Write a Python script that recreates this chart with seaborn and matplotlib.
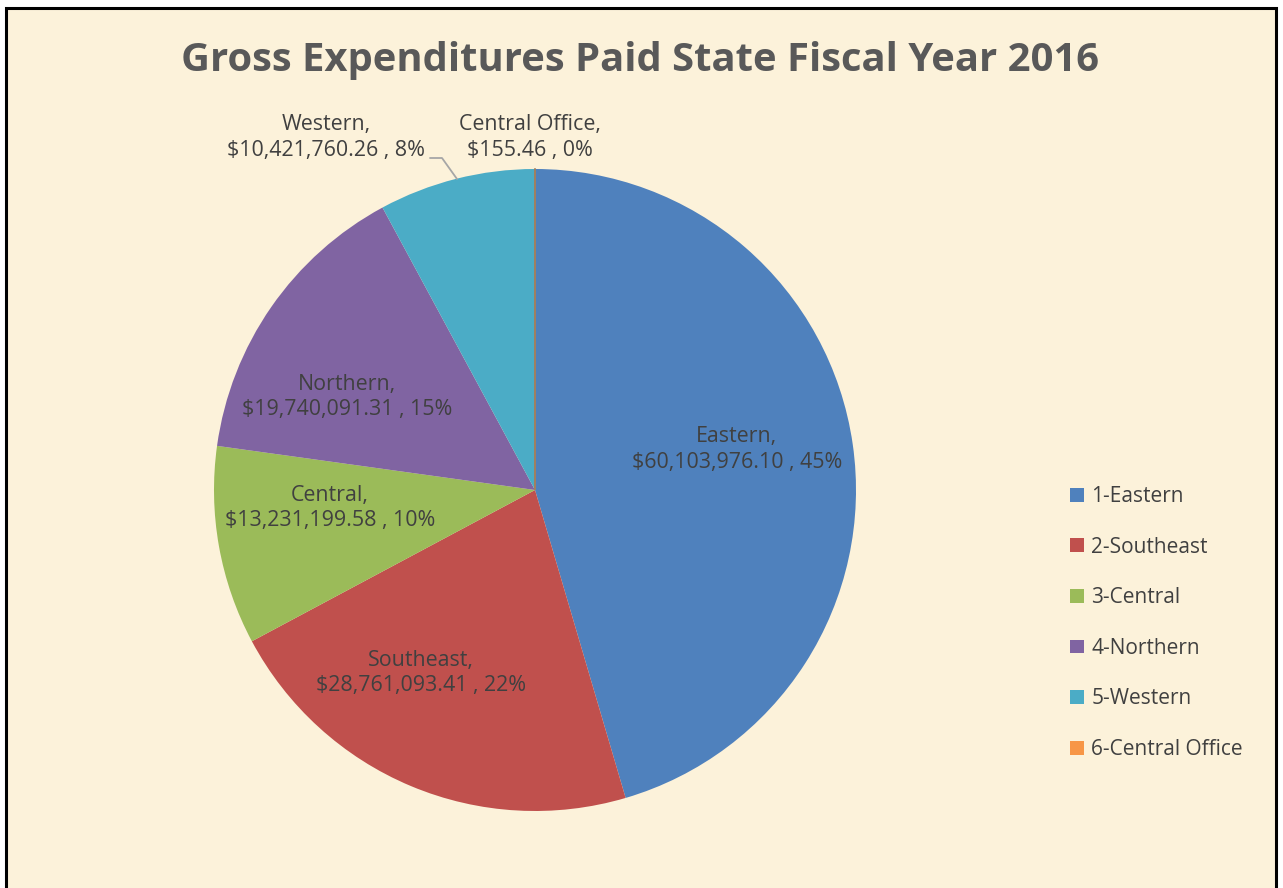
import matplotlib
matplotlib.use("Agg")
import matplotlib.pyplot as plt
import matplotlib.patches as mpatches
import seaborn as sns
import numpy as np

# ---- data ----
regions = ["Eastern", "Southeast", "Central", "Northern", "Western", "Central Office"]
legend_labels = ["1-Eastern", "2-Southeast", "3-Central", "4-Northern", "5-Western", "6-Central Office"]
amounts = [60103976.10, 28761093.41, 13231199.58, 19740091.31, 10421760.26, 155.46]
amount_text = ["$60,103,976.10", "$28,761,093.41", "$13,231,199.58", "$19,740,091.31", "$10,421,760.26", "$155.46"]
pct_text = ["45%", "22%", "10%", "15%", "8%", "0%"]

# ---- layout (label centres in pie units) ----
label_pos = [(0.629, 0.125), (-0.355, -0.570), (-0.639, -0.056),
             (-0.586, 0.290), (-0.651, 1.097), (-0.016, 1.097)]

sns.set_theme(style="white")
plt.rcParams['font.family'] = ['Open Sans', 'DejaVu Sans']

colors = ["#4F81BD", "#C0504D", "#9BBB59", "#8064A2", "#4BACC6", "#F79646"]
W, H = 1283, 888
fig = plt.figure(figsize=(W / 100, H / 100), dpi=100, facecolor="white")

# parchment panel with black border
panel = mpatches.Rectangle((6 / W, -0.05), (1276 - 6) / W, (H - 8) / H + 0.05,
                           transform=fig.transFigure, facecolor="#FCF2DA",
                           edgecolor="black", linewidth=2.2, zorder=-5)
fig.patches.append(panel)

cx, cy, R = 535, 490, 321
ax = fig.add_axes([(cx - R) / W, (H - cy - R) / H, 2 * R / W, 2 * R / H])
ax.set_zorder(2)
ax.set_facecolor("none")
wedges, _ = ax.pie(amounts, colors=colors, startangle=90, counterclock=False,
                   radius=1.0, wedgeprops=dict(linewidth=0))
wedges[-1].set_edgecolor("#A08060")
wedges[-1].set_linewidth(1.2)
ax.set_xlim(-1, 1)
ax.set_ylim(-1, 1)
ax.set_aspect("equal")
ax.axis("off")

for name, amt, pct, (x, y) in zip(regions, amount_text, pct_text, label_pos):
    ax.text(x, y, f"{name},\n{amt} , {pct}", ha="center", va="center",
            fontsize=15.4, color="#404040", linespacing=1.3)

# leader line for Western
wx = [(430 - cx) / R, (442 - cx) / R, (457 - cx) / R]
wy = [(cy - 158) / R, (cy - 158) / R, (cy - 179) / R]
ax.plot(wx, wy, color="#A6A6A6", lw=1.3, clip_on=False)

fig.text(640 / W, 1 - 61 / H, "Gross Expenditures Paid State Fiscal Year 2016",
         ha="center", va="center", fontsize=28.8, fontweight="bold", color="#595959")

handles = [mpatches.Patch(facecolor=c, edgecolor="none") for c in colors]
fig.legend(handles, legend_labels, loc="center left",
           bbox_to_anchor=(1062 / W, 1 - 623 / H), frameon=False,
           fontsize=15, labelcolor="#404040", handlelength=0.65, handleheight=0.65,
           handletextpad=0.35, labelspacing=1.42, borderaxespad=0)

fig.savefig("out.png", dpi=100, facecolor="white")
